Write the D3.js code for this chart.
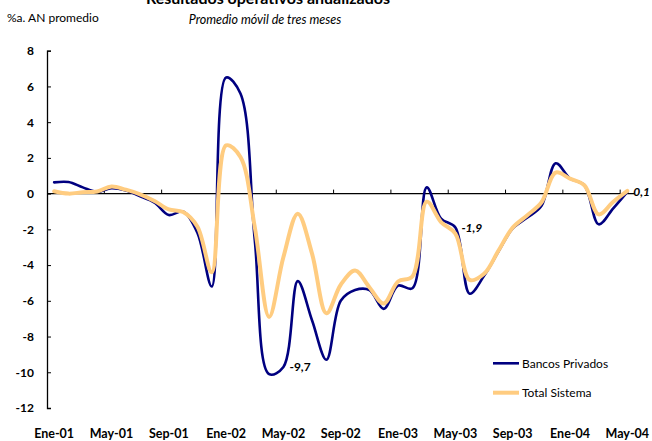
<!DOCTYPE html>
<html>
<head>
<meta charset="utf-8">
<script src="https://cdn.jsdelivr.net/npm/d3@7"></script>
<style>
  html, body { margin: 0; padding: 0; background: #fff; }
  svg { display: block; font-family: Lato, "Open Sans", sans-serif; }
</style>
</head>
<body>
<svg id="chart" width="652" height="441"></svg>
<script>
// Monthly periods, Jan-2001 .. May-2004
const months = ["Ene","Feb","Mar","Abr","May","Jun","Jul","Ago","Sep","Oct","Nov","Dic"];
const categories = [];
for (let y = 1; y <= 4; y++) {
  for (let m = 0; m < 12; m++) {
    if (y === 4 && m > 4) break;
    categories.push(months[m] + "-0" + y);
  }
}

// Three-month moving average of annualised operating results (%)
const bancosPrivados = [
  0.63, 0.65, 0.35, 0.10, 0.30, 0.17, -0.15, -0.50, -1.20, -1.00,
  -2.20, -5.20, 6.50, 5.60, -2.60, -10.10, -9.70, -4.90, -7.10, -9.30,
  -6.00, -5.40, -5.40, -6.45, -5.15, -5.30, 0.35, -1.40, -1.90, -5.60,
  -4.60, -3.25, -1.95, -1.35, -0.70, 1.70, 0.85, 0.47, -1.72, -0.84,
  0.10
];
const totalSistema = [
  0.13, 0.00, 0.08, 0.12, 0.40, 0.22, -0.04, -0.41, -0.88, -1.03,
  -1.85, -4.40, 2.70, 2.05, -1.87, -6.90, -3.55, -1.12, -3.37, -6.70,
  -5.10, -4.30, -5.24, -6.15, -4.92, -4.64, -0.45, -1.59, -2.24, -4.83,
  -4.49, -3.20, -1.90, -1.22, -0.50, 1.18, 0.84, 0.47, -1.16, -0.47,
  0.15
];

const yTicks = [8, 6, 4, 2, 0, -2, -4, -6, -8, -10, -12];
const xLabelEvery = 4;

// Values printed next to selected points: [category index, series]
const pointLabels = [
  { i: 16, series: "bp", text: "-9,7", italic: false, dx: 6, dy: 4 },
  { i: 28, series: "bp", text: "-1,9", italic: true, dx: 6, dy: 4 },
  { i: 40, series: "bp", text: "0,1", italic: true, dx: 6, dy: 4 }
];

const series = [
  { key: "bp", name: "Bancos Privados", values: bancosPrivados, color: "#000080", width: 2.6 },
  { key: "ts", name: "Total Sistema", values: totalSistema, color: "#FFCC80", width: 4 }
];

const svg = d3.select("#chart");
const plot = { left: 47, right: 634.5, top: 50.7, bottom: 408 };

const x = d3.scaleBand().domain(d3.range(categories.length)).range([plot.left, plot.right]).padding(0);
const cx = i => x(i) + x.bandwidth() / 2;
const y = d3.scaleLinear().domain([-12, 8]).range([plot.bottom, plot.top]);

// Title block
svg.append("text").attr("x", 268).attr("y", 4).attr("text-anchor", "middle")
  .attr("font-size", 16).attr("font-weight", "bold").attr("fill", "#000")
  .text("Resultados operativos anualizados");
svg.append("text").attr("x", 265).attr("y", 24).attr("text-anchor", "middle")
  .attr("font-size", 12.5).attr("font-style", "italic").attr("fill", "#000")
  .text("Promedio móvil de tres meses");
svg.append("text").attr("x", 7).attr("y", 22)
  .attr("font-size", 12).attr("fill", "#000")
  .text("%a. AN promedio");

// Y axis
const yAxis = d3.axisLeft(y).tickValues(yTicks).tickSize(-4).tickPadding(13).tickFormat(d3.format("d"));
const gy = svg.append("g").attr("transform", `translate(${plot.left},0)`).call(yAxis);
gy.select(".domain").attr("stroke", "#000").attr("stroke-width", 1.3);
gy.selectAll(".tick line").attr("stroke", "#000");
gy.selectAll(".tick text").attr("font-size", 12).attr("font-weight", "bold")
  .attr("font-family", "Lato, sans-serif").attr("fill", "#000")
  .text(d => d < 0 ? "-" + Math.abs(d) : d);

// X axis on the zero line, ticks between categories every 4 months
const boundaries = d3.range(0, categories.length + 1, xLabelEvery).map(i => i === categories.length ? plot.right : x(i));
const gx = svg.append("g").attr("transform", `translate(0,${y(0)})`);
gx.append("line").attr("x1", plot.left).attr("x2", plot.right).attr("y1", 0).attr("y2", 0)
  .attr("stroke", "#000").attr("stroke-width", 1.2);
gx.selectAll("line.tk").data(boundaries.filter(b => b > plot.left + 1 && b < plot.right - 1)).join("line")
  .attr("class", "tk").attr("x1", d => d).attr("x2", d => d).attr("y1", 0).attr("y2", -4)
  .attr("stroke", "#000");

// Category labels along the bottom
svg.append("g").selectAll("text")
  .data(d3.range(0, categories.length, xLabelEvery))
  .join("text")
  .attr("x", i => cx(i)).attr("y", 438).attr("text-anchor", "middle")
  .attr("font-size", 12.5).attr("font-weight", "bold").attr("fill", "#000")
  .text(i => categories[i]);

// Smoothed series lines
const line = d3.line().x((d, i) => cx(i)).y(d => y(d)).curve(d3.curveCatmullRom.alpha(0.5));
svg.append("g").selectAll("path").data(series).join("path")
  .attr("d", s => line(s.values))
  .attr("fill", "none")
  .attr("stroke", s => s.color)
  .attr("stroke-width", s => s.width)
  .attr("stroke-linejoin", "round").attr("stroke-linecap", "round");

// Point value labels
const byKey = Object.fromEntries(series.map(s => [s.key, s]));
svg.append("g").selectAll("text").data(pointLabels).join("text")
  .attr("x", d => cx(d.i) + d.dx)
  .attr("y", d => y(byKey[d.series].values[d.i]) + d.dy)
  .attr("font-size", 12).attr("font-weight", "bold")
  .attr("font-style", d => d.italic ? "italic" : "normal")
  .attr("fill", "#000")
  .text(d => d.text);

// Legend
const legend = svg.append("g").selectAll("g").data(series).join("g")
  .attr("transform", (d, k) => `translate(493,${363.3 + k * 29.4})`);
legend.append("line").attr("x1", 0).attr("x2", 26).attr("y1", 0).attr("y2", 0)
  .attr("stroke", d => d.color).attr("stroke-width", d => d.width);
legend.append("text").attr("x", 29).attr("y", 4.5)
  .attr("font-size", 12).attr("fill", "#000").text(d => d.name);
</script>
</body>
</html>
